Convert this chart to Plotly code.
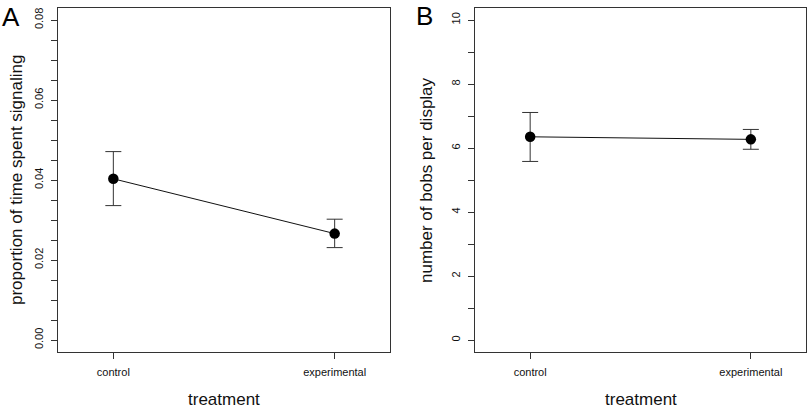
import plotly.graph_objects as go

# ---- data ----
categories = ["control", "experimental"]
cat_pos = [1, 2]

# Panel A: proportion of time spent signaling
prop_mean = [0.0403, 0.0266]
prop_upper = [0.0471, 0.0302]
prop_lower = [0.0336, 0.0231]

# Panel B: number of bobs per display
bobs_mean = [6.35, 6.27]
bobs_upper = [7.11, 6.58]
bobs_lower = [5.58, 5.96]

yA_ticks = [0.00, 0.02, 0.04, 0.06, 0.08]
yA_ticktext = ["0.00", "0.02", "0.04", "0.06", "0.08"]
yB_ticks = [0, 2, 4, 6, 8, 10]
yB_ticktext = ["0", "2", "4", "6", "8", "10"]

W, H = 807, 410
FONT = "Liberation Sans, Arial, Helvetica, sans-serif"
BOX = "#333333"
TXT = "#111111"

def err(mean, up, lo):
    return ([u - m for u, m in zip(up, mean)], [m - l for m, l in zip(mean, lo)])

fig = go.Figure()

eA = err(prop_mean, prop_upper, prop_lower)
fig.add_trace(go.Scatter(
    x=cat_pos, y=prop_mean, mode="lines+markers",
    line=dict(color="#111111", width=1),
    marker=dict(color="black", size=10.5),
    error_y=dict(type="data", symmetric=False, array=eA[0], arrayminus=eA[1],
                 color="#333333", thickness=1, width=8),
    xaxis="x", yaxis="y", showlegend=False))

eB = err(bobs_mean, bobs_upper, bobs_lower)
fig.add_trace(go.Scatter(
    x=cat_pos, y=bobs_mean, mode="lines+markers",
    line=dict(color="#111111", width=1),
    marker=dict(color="black", size=10.5),
    error_y=dict(type="data", symmetric=False, array=eB[0], arrayminus=eB[1],
                 color="#333333", thickness=1, width=8),
    xaxis="x2", yaxis="y2", showlegend=False))

def px_x(p):
    return p / W

def px_y(p):
    return 1 - p / H

common_x = dict(
    range=[0.75, 2.25], tickvals=cat_pos, ticktext=categories,
    ticks="outside", ticklen=6, tickcolor=BOX, tickwidth=1,
    showline=True, mirror=True, linecolor=BOX, linewidth=1,
    showgrid=False, zeroline=False, automargin=False, ticklabelstandoff=4,
    tickfont=dict(family=FONT, size=11, color=TXT),
)

common_y = dict(
    ticks="outside", ticklen=6, tickcolor=BOX, tickwidth=1,
    showline=True, mirror=True, linecolor=BOX, linewidth=1,
    showgrid=False, zeroline=False, tickangle=-90, automargin=False,
    ticklabelstandoff=4,
    tickfont=dict(family=FONT, size=11, color=TXT),
)

y_dom = [px_y(352), px_y(8)]

title_font = dict(family=FONT, size=17, color=TXT)

fig.update_layout(
    width=W, height=H,
    margin=dict(l=0, r=0, t=0, b=0),
    paper_bgcolor="white", plot_bgcolor="white",
    xaxis=dict(domain=[px_x(58), px_x(390)], anchor="y", **common_x),
    xaxis2=dict(domain=[px_x(475), px_x(806)], anchor="y2", **common_x),
    yaxis=dict(domain=y_dom, anchor="x", range=[-0.003, 0.083],
               tickvals=yA_ticks, ticktext=yA_ticktext,
               minor=dict(dtick=0.005, tick0=0, ticks="outside", ticklen=6, tickcolor=BOX, tickwidth=1),
               **common_y),
    yaxis2=dict(domain=y_dom, anchor="x2", range=[-0.375, 10.375],
                tickvals=yB_ticks, ticktext=yB_ticktext,
                minor=dict(dtick=1, tick0=0, ticks="outside", ticklen=6, tickcolor=BOX, tickwidth=1),
                **common_y),
    annotations=[
        dict(text="A", x=px_x(0), y=px_y(34), xref="paper", yref="paper",
             xanchor="left", yanchor="bottom", showarrow=False,
             font=dict(family=FONT, size=26, color="black")),
        dict(text="B", x=px_x(414), y=px_y(33), xref="paper", yref="paper",
             xanchor="left", yanchor="bottom", showarrow=False,
             font=dict(family=FONT, size=26, color="black")),
        dict(text="treatment", x=px_x(224), y=px_y(411), xref="paper", yref="paper",
             xanchor="center", yanchor="bottom", showarrow=False, font=title_font),
        dict(text="treatment", x=px_x(640.5), y=px_y(411), xref="paper", yref="paper",
             xanchor="center", yanchor="bottom", showarrow=False, font=title_font),
        dict(text="proportion of time spent signaling", x=px_x(17), y=px_y(180),
             xref="paper", yref="paper", xanchor="center", yanchor="middle",
             textangle=-90, showarrow=False, font=title_font),
        dict(text="number of bobs per display", x=px_x(427), y=px_y(180),
             xref="paper", yref="paper", xanchor="center", yanchor="middle",
             textangle=-90, showarrow=False, font=title_font),
    ],
)

fig.write_html("out.html", config={"displayModeBar": False},
               post_script="document.body.style.margin='0';document.body.style.overflow='hidden';")
